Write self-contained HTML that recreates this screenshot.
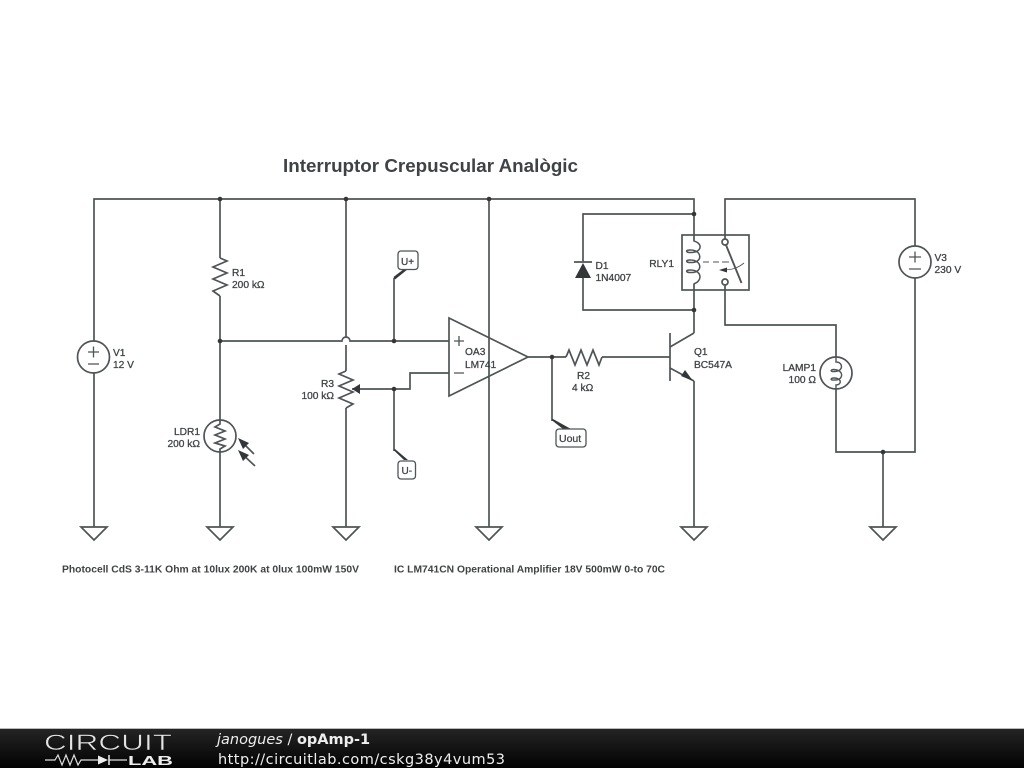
<!DOCTYPE html>
<html><head><meta charset="utf-8"><title>Interruptor Crepuscular Analògic</title>
<style>
html,body{margin:0;padding:0;background:#fff;width:1024px;height:768px;overflow:hidden}
svg{display:block;position:absolute;left:0;top:0}
.w{fill:none;stroke:#4f5456;stroke-width:1.7;stroke-linejoin:miter}
.t{font-family:"Liberation Sans",sans-serif;font-size:10.2px;fill:#3f4345;font-weight:400;stroke:#3f4345;stroke-width:.28}
.b{font-weight:700;stroke:none;font-size:10.5px}
.e{text-anchor:end}
.f{font-family:"DejaVu Sans",sans-serif;fill:#eee;font-size:14.5px}
</style></head><body>
<svg width="1024" height="768" viewBox="0 0 1024 768" xmlns="http://www.w3.org/2000/svg">
<defs>
<linearGradient id="g" x1="0" y1="0" x2="0" y2="1"><stop offset="0" stop-color="#242424"/><stop offset="1" stop-color="#020202"/></linearGradient>
</defs>
<g style="filter:blur(.35px)">
<text x="283" y="172" font-family="Liberation Sans" font-size="18.600" font-weight="700" fill="#3f4345" textLength="295" lengthAdjust="spacingAndGlyphs">Interruptor Crepuscular Analògic</text>

<!-- main wires -->
<path class="w" d="M94 341V199H694V241M94 373V527M220 199V258M220 296V420M220 452V527"/>
<path class="w" d="M346 199V337M346 345V371M346 408V527M489 199V527"/>
<path class="w" d="M220 341H342A4 4 0 0 1 350 341H449"/>
<path class="w" d="M583 262V214H694M583 278V310H694M694 284V333M694 381V527"/>
<path class="w" d="M725 239V199H915V246M915 278V452H836V389M836 357V325H725V285M883 452V527"/>
<path class="w" d="M352 389H410V373H449"/>
<path class="w" d="M394 341V278M394 389V451M552 357V421"/>
<path class="w" d="M528 357H566M602 357H670"/>

<!-- grounds -->
<path class="w" fill="#fff" d="M81 527H107L94 540ZM207 527H233L220 540ZM333 527H359L346 540ZM476 527H502L489 540ZM681 527H707L694 540ZM870 527H896L883 540Z"/>

<!-- sources -->
<g class="w" style="fill:#fff"><circle cx="93.500" cy="357" r="16"/><circle cx="915" cy="262" r="16"/><circle cx="220" cy="436" r="16"/><circle cx="836" cy="373" r="16"/></g>
<path class="w" style="stroke-width:1.300" d="M88 352H99M93.500 346.500V357.500M88 364H99M909 257H921M915 251.500V262.500M909 269H921"/>

<!-- resistors -->
<path class="w" d="M220 258L227 261L213 267L227 273L213 279L227 285L213 291L220 296"/>
<path class="w" d="M566 357L569 350L575 365L581 350L587 365L593 350L599 365L602 357"/>
<path class="w" d="M346 371L339 374L353 380L339 386L353 392L339 398L353 404L346 408"/>
<path d="M352 389L360 384V394Z" fill="#333739"/>

<!-- LDR -->
<path class="w" d="M220 420V424L215 427L225 431L215 435L225 439L215 443L225 446L220 449V452"/>
<path class="w" d="M240 440L254 454M240 452L255 466"/>
<path d="M238 438L249 443L243 449ZM238 450L249 455L243 461Z" fill="#333739"/>

<!-- opamp -->
<path class="w" fill="#fff" d="M449 318L528 357L449 396Z"/>
<path class="w" style="stroke-width:1.300" d="M454 341H464M459 336V346M454 373H464"/>

<!-- junction dots -->
<g fill="#333739"><circle cx="220" cy="199" r="2.300"/><circle cx="346" cy="199" r="2.300"/><circle cx="489" cy="199" r="2.300"/><circle cx="220" cy="341" r="2.300"/><circle cx="394" cy="341" r="2.300"/><circle cx="394" cy="389" r="2.300"/><circle cx="552" cy="357" r="2.300"/><circle cx="694" cy="214" r="2.300"/><circle cx="694" cy="310" r="2.300"/><circle cx="883" cy="452" r="2.300"/></g>

<!-- flags -->
<path d="M393.500 277L404 269H408L395 279.500ZM393.500 450L404 460H408L395 449ZM551.500 420L563 429H571L553 419Z" fill="#333739"/>
<g class="w" style="fill:#fff;stroke-width:1.300"><rect x="398" y="251" width="20" height="18.500" rx="3"/><rect x="398" y="461" width="17.500" height="18" rx="3"/><rect x="556" y="429" width="30" height="18" rx="3"/></g>
<text class="t" x="401" y="265" style="font-size:10px">U+</text>
<text class="t" x="401.500" y="474" style="font-size:10px">U-</text>
<text class="t" x="559" y="442" style="font-size:10.500px">Uout</text>

<!-- diode -->
<path d="M583 263L575 278H591Z" fill="#333739"/>
<path class="w" d="M574 262H592"/>

<!-- relay -->
<rect class="w" x="682" y="235" width="67" height="55"/>
<path class="w" style="stroke-width:1.500" d="M693.500 241C703 243 702 252 692 252.500C685 253 685 249.500 691 250C702 250.500 703 262 692 262.500C685 263 685 259.500 691 260C702 260.500 703 272 692 272.500C685 273 685 269.500 691 270C702 270.500 703 281 693.500 284"/>
<path class="w" d="M703 262H709M713 262H719M722 262H729" style="stroke-width:1"/>
<path class="w" style="stroke-width:1.900" d="M726 245L741.500 283"/>
<circle class="w" style="fill:#fff" cx="725" cy="242" r="3"/><circle class="w" style="fill:#fff" cx="725" cy="282" r="3"/>
<path class="w" d="M744 263C738 268 732 270 722 270" style="stroke-width:.9"/>
<path d="M719 270L727 267.500V272.500Z" fill="#333739"/>

<!-- transistor -->
<path class="w" d="M670 333V381M670 347L694 333M670 368L694 381"/>
<path d="M693 381L681 376L685 370Z" fill="#333739"/>

<!-- lamp coil -->
<path class="w" style="stroke-width:1.400" d="M836 357V362C843 362 844 371 835 371.500C830 372 830 369.500 834 369.500C844 370 844 380 835 380C830 380.500 830 378 834 378C842 378 842 385 836 385V389"/>

<!-- labels -->
<text class="t" x="232" y="276">R1</text><text class="t" x="232" y="288">200 kΩ</text>
<text class="t" x="113" y="356">V1</text><text class="t" x="113" y="368">12 V</text>
<text class="t e" x="200" y="435">LDR1</text><text class="t e" x="200" y="447">200 kΩ</text>
<text class="t e" x="334" y="387">R3</text><text class="t e" x="334" y="399">100 kΩ</text>
<text class="t" x="465" y="355">OA3</text><text class="t" x="465" y="368">LM741</text>
<text class="t" x="577" y="379">R2</text><text class="t" x="572" y="391">4 kΩ</text>
<text class="t" x="595.500" y="269">D1</text><text class="t" x="595.500" y="281">1N4007</text>
<text class="t e" x="674" y="267">RLY1</text>
<text class="t" x="694" y="355">Q1</text><text class="t" x="694" y="368">BC547A</text>
<text class="t e" x="816" y="371">LAMP1</text><text class="t e" x="816" y="383">100 Ω</text>
<text class="t" x="934.500" y="261">V3</text><text class="t" x="934.500" y="273">230 V</text>
<text class="t b" x="62" y="572.500" textLength="297" lengthAdjust="spacingAndGlyphs">Photocell CdS 3-11K Ohm at 10lux 200K at 0lux 100mW 150V</text>
<text class="t b" x="394" y="572.500" textLength="271" lengthAdjust="spacingAndGlyphs">IC LM741CN Operational Amplifier 18V 500mW 0-to 70C</text>
</g>

<!-- footer -->
<rect x="0" y="729" width="1024" height="39" fill="url(#g)"/>
<rect x="0" y="728" width="1024" height="1" fill="#bbb"/>
<text x="44" y="750" font-family="Liberation Sans" font-size="22.500" fill="#e4e4e4" stroke="#161616" stroke-width=".55" textLength="128" lengthAdjust="spacingAndGlyphs">CIRCUIT</text>
<path d="M45 760H55L58 755L62 765L66 755L70 765L74 755L78 765L81 760H98M109 760H127" fill="none" stroke="#ddd" stroke-width="1.200"/>
<path d="M98 755.500V764.500L108 760Z" fill="#eee"/><path d="M109 755V765" stroke="#eee" stroke-width="1.500"/>
<text x="128" y="765" font-family="Liberation Sans" font-size="13" font-weight="700" fill="#eee" textLength="45" lengthAdjust="spacingAndGlyphs">LAB</text>
<text class="f" x="217" y="744"><tspan font-style="italic">janogues</tspan> / <tspan font-weight="700">opAmp-1</tspan></text>
<text class="f" x="218" y="764" textLength="287">http://circuitlab.com/cskg38y4vum53</text>
</svg>
</body></html>
